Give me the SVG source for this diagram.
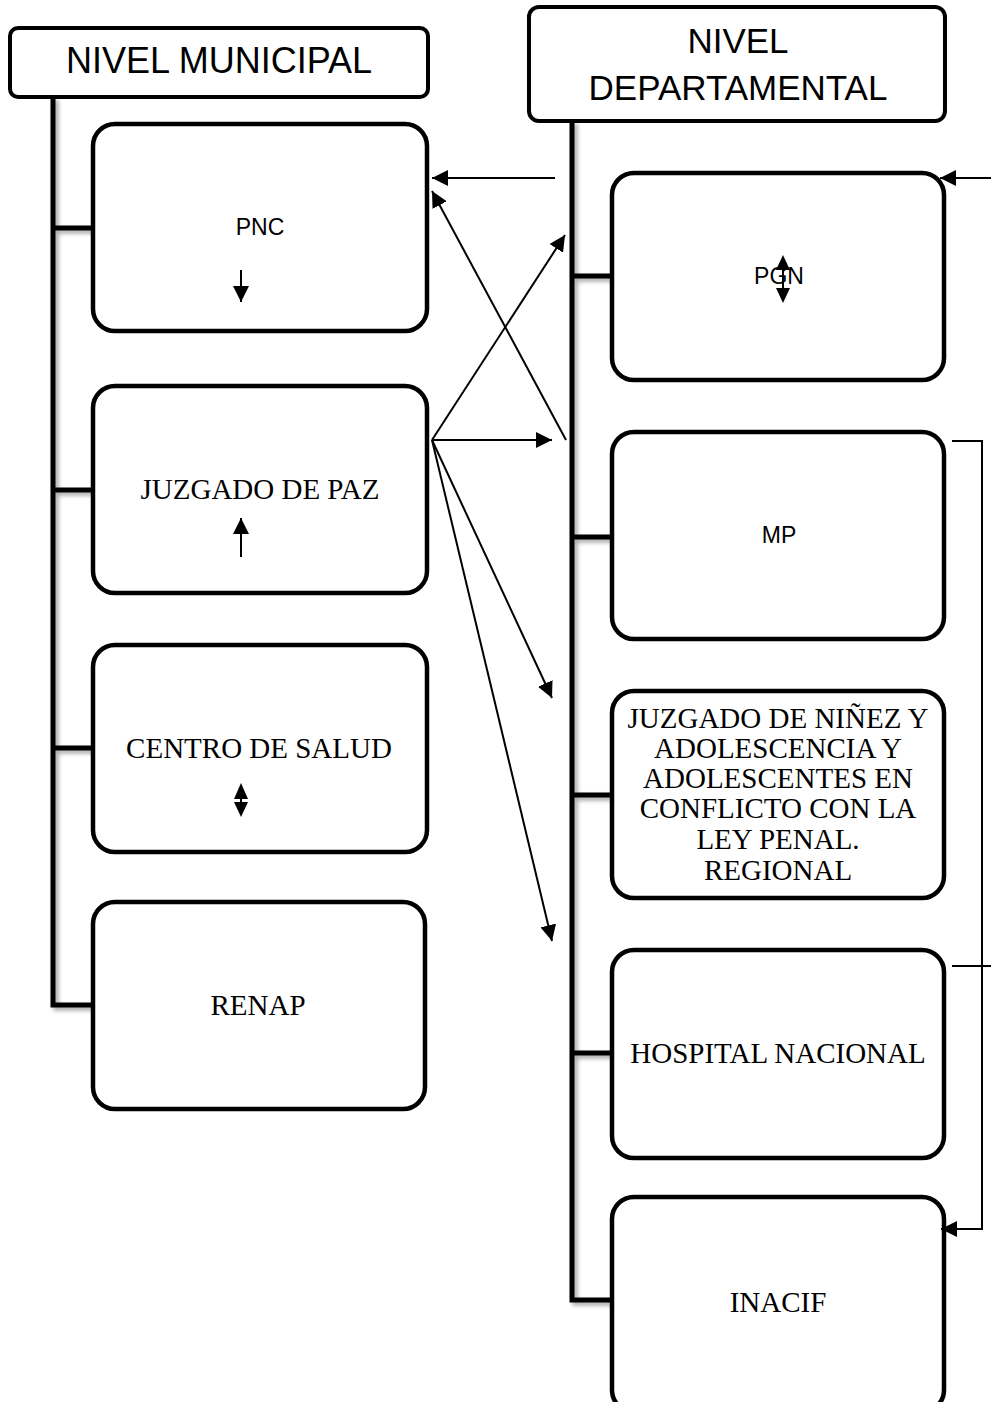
<svg xmlns="http://www.w3.org/2000/svg" width="991" height="1402" viewBox="0 0 991 1402">
<style>
.hdr{fill:#fff;stroke:#000;stroke-width:4}
.box{fill:#fff;stroke:#000;stroke-width:4.5}
.trunk{fill:none;stroke:#000;stroke-width:5;stroke-linejoin:miter}
.sans{font-family:"Liberation Sans",Arial,sans-serif;fill:#000;text-anchor:middle}
.serif{font-family:"Liberation Serif","Times New Roman",serif;fill:#000;text-anchor:middle;font-size:29px}
.ln{fill:none;stroke:#000;stroke-width:2}
</style>
<defs>
<marker id="ah2" viewBox="0 0 10 10" refX="10" refY="5" markerWidth="16" markerHeight="16" markerUnits="userSpaceOnUse" orient="auto">
<path d="M0,0 L10,5 L0,10 z" fill="#000"/>
</marker>
<filter id="sh" x="-20%" y="-5%" width="160%" height="110%">
<feGaussianBlur in="SourceAlpha" stdDeviation="2"/>
<feOffset dx="3" dy="3" result="b"/>
<feComponentTransfer><feFuncA type="linear" slope="0.35"/></feComponentTransfer>
<feMerge><feMergeNode/><feMergeNode in="SourceGraphic"/></feMerge>
</filter>
</defs>

<g id="trunks">
<path class="trunk" filter="url(#sh)" d="M53,97 V1005 H94 M53,228 H94 M53,490 H94 M53,748 H94"/>
<path class="trunk" filter="url(#sh)" d="M572,121 V1300 H612 M572,276 H612 M572,537 H612 M572,795 H612 M572,1053 H612"/>
</g>

<g id="nivel-municipal">
<rect class="hdr" x="10" y="28" width="418" height="69" rx="8"/>
<text class="sans" x="219" y="73" font-size="36">NIVEL MUNICIPAL</text>
</g>
<g id="nivel-departamental">
<rect class="hdr" x="529" y="7" width="416" height="114" rx="10"/>
<text class="sans" x="738" y="53" font-size="35">NIVEL</text>
<text class="sans" x="738" y="100" font-size="35">DEPARTAMENTAL</text>
</g>

<g id="pnc">
<rect class="box" x="93" y="124" width="334" height="207" rx="22"/>
<text class="sans" x="260" y="235" font-size="23">PNC</text>
</g>
<g id="juzgado-paz">
<rect class="box" x="93" y="386" width="334" height="207" rx="22"/>
<text class="serif" x="260" y="499">JUZGADO DE PAZ</text>
</g>
<g id="centro-salud">
<rect class="box" x="93" y="645" width="334" height="207" rx="22"/>
<text class="serif" x="259" y="758">CENTRO DE SALUD</text>
</g>
<g id="renap">
<rect class="box" x="93" y="902" width="332" height="207" rx="22"/>
<text class="serif" x="258" y="1015">RENAP</text>
</g>

<g id="pgn">
<rect class="box" x="612" y="173" width="332" height="207" rx="22"/>
<text class="sans" x="779" y="284" font-size="23">PGN</text>
</g>
<g id="mp">
<rect class="box" x="612" y="432" width="332" height="207" rx="22"/>
<text class="sans" x="779" y="543" font-size="23">MP</text>
</g>
<g id="juzgado-ninez">
<rect class="box" x="612" y="691" width="332" height="207" rx="22"/>
<text class="serif" x="778" y="728">JUZGADO DE NIÑEZ Y</text>
<text class="serif" x="778" y="758">ADOLESCENCIA Y</text>
<text class="serif" x="778" y="788">ADOLESCENTES EN</text>
<text class="serif" x="778" y="818">CONFLICTO CON LA</text>
<text class="serif" x="778" y="849">LEY PENAL.</text>
<text class="serif" x="778" y="880">REGIONAL</text>
</g>
<g id="hospital">
<rect class="box" x="612" y="950" width="332" height="208" rx="22"/>
<text class="serif" x="778" y="1063">HOSPITAL NACIONAL</text>
</g>
<g id="inacif">
<rect class="box" x="612" y="1197" width="332" height="215" rx="22"/>
<text class="serif" x="778" y="1312">INACIF</text>
</g>

<g id="connectors">
<line class="ln" x1="555" y1="178" x2="432" y2="178" marker-end="url(#ah2)"/>
<line class="ln" x1="566" y1="440" x2="432" y2="191" marker-end="url(#ah2)"/>
<line class="ln" x1="432" y1="440" x2="565" y2="235" marker-end="url(#ah2)"/>
<line class="ln" x1="432" y1="440" x2="552" y2="440" marker-end="url(#ah2)"/>
<line class="ln" x1="432" y1="440" x2="552" y2="698" marker-end="url(#ah2)"/>
<line class="ln" x1="432" y1="440" x2="552" y2="941" marker-end="url(#ah2)"/>
<line class="ln" x1="991" y1="178" x2="940" y2="178" marker-end="url(#ah2)"/>
<polyline class="ln" points="952,441 982,441 982,1229 941,1229" marker-end="url(#ah2)"/>
<line class="ln" x1="952" y1="966" x2="991" y2="966"/>
<line class="ln" x1="241" y1="270" x2="241" y2="302" marker-end="url(#ah2)"/>
<line class="ln" x1="241" y1="557" x2="241" y2="518" marker-end="url(#ah2)"/>
<path d="M241,783 L234,799 L248,799 z M241,817 L234,802 L248,802 z" fill="#000"/>
<line class="ln" x1="241" y1="795" x2="241" y2="805"/>
<path d="M783,255 L776,270 L790,270 z M783,303 L776,288 L790,288 z" fill="#000"/>
<line class="ln" x1="783" y1="268" x2="783" y2="290"/>
</g>
</svg>
